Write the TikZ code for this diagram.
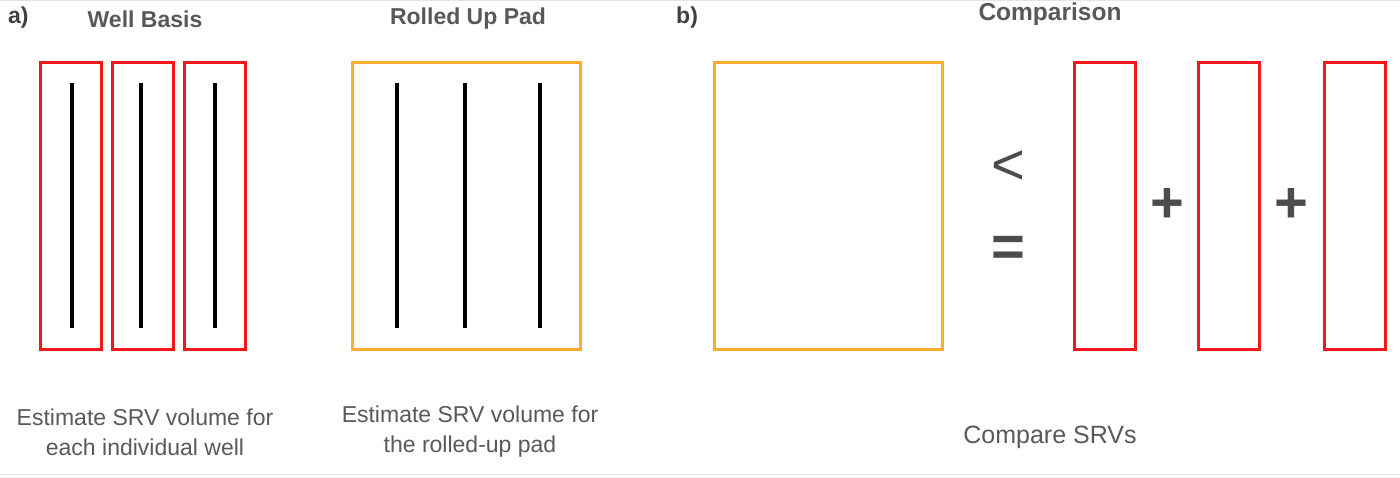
\documentclass[tikz,border=0pt]{standalone}
\usepackage{fontspec}
\setmainfont{Liberation Sans}
\begin{document}
\begin{tikzpicture}[x=1pt,y=-1pt,
  wellbox/.style={draw=red, line width=3pt},
  padbox/.style={draw=orange, line width=3pt},
  wellline/.style={draw=black, line width=4pt},
  title/.style={text=black!65, font=\fontsize{23}{27}\selectfont\bfseries, inner sep=0pt},
  caption/.style={text=black!65, font=\fontsize{23}{30}\selectfont, align=center, inner sep=0pt},
  sym/.style={text=black!70, font=\fontsize{58}{60}\selectfont, inner sep=0pt}]
\definecolor{padorange}{HTML}{F9AE2E}
\definecolor{wellred}{HTML}{F01818}
\tikzset{wellbox/.append style={draw=wellred}, padbox/.append style={draw=padorange}}
\useasboundingbox (0,0) rectangle (1400,478);
\fill[white] (0,0) rectangle (1400,478);
\draw[black!10, line width=1pt] (0,1) -- (1400,1);
\draw[black!10, line width=1pt] (0,474) -- (1400,474);
% labels
\node[title, text=black!75, anchor=west] (la) at (8,18) {a)};
\node[title] (t1) at (145,19) {Well Basis};
\node[title] (t2) at (468,19) {Rolled Up Pad};
\node[title, text=black!75, anchor=west] (lb) at (676,18) {b)};
\node[title, font=\fontsize{24.5}{28}\selectfont\bfseries] (t3) at (1050,14) {Comparison};
% a) well boxes
\draw[wellbox] (40,63) rectangle (101,349);
\draw[wellbox] (112,63) rectangle (173,349);
\draw[wellbox] (184,63) rectangle (245,349);
\foreach \x/\n in {72/w1,141/w2,215/w3}{
  \coordinate (\n t) at (\x,83); \coordinate (\n b) at (\x,328);
  \draw[wellline] (\n t) -- (\n b);
}
% a) pad box
\draw[padbox] (352,63) rectangle (580,349);
\foreach \x/\n in {397/p1,465/p2,540/p3}{
  \coordinate (\n t) at (\x,83); \coordinate (\n b) at (\x,328);
  \draw[wellline] (\n t) -- (\n b);
}
% b)
\draw[padbox] (714,63) rectangle (942,349);
\draw[wellbox] (1074,63) rectangle (1135,349);
\draw[wellbox] (1198,63) rectangle (1259,349);
\draw[wellbox] (1324,63) rectangle (1385,349);
\node[sym] (lt) at (1008,168) {<};
\node[sym, font=\fontsize{58}{60}\selectfont\bfseries] (eq) at (1008,251) {=};
\node[sym, font=\fontsize{58}{60}\selectfont\bfseries] (p1s) at (1167,205) {+};
\node[sym, font=\fontsize{58}{60}\selectfont\bfseries] (p2s) at (1291,205) {+};
% captions
\node[caption] (c1) at (145,432) {Estimate SRV volume for\\each individual well};
\node[caption] (c2) at (470,432) {Estimate SRV volume for\\the rolled-up pad};
\node[caption, font=\fontsize{25}{30}\selectfont] (c3) at (1050,437) {Compare SRVs};
\end{tikzpicture}
\end{document}
